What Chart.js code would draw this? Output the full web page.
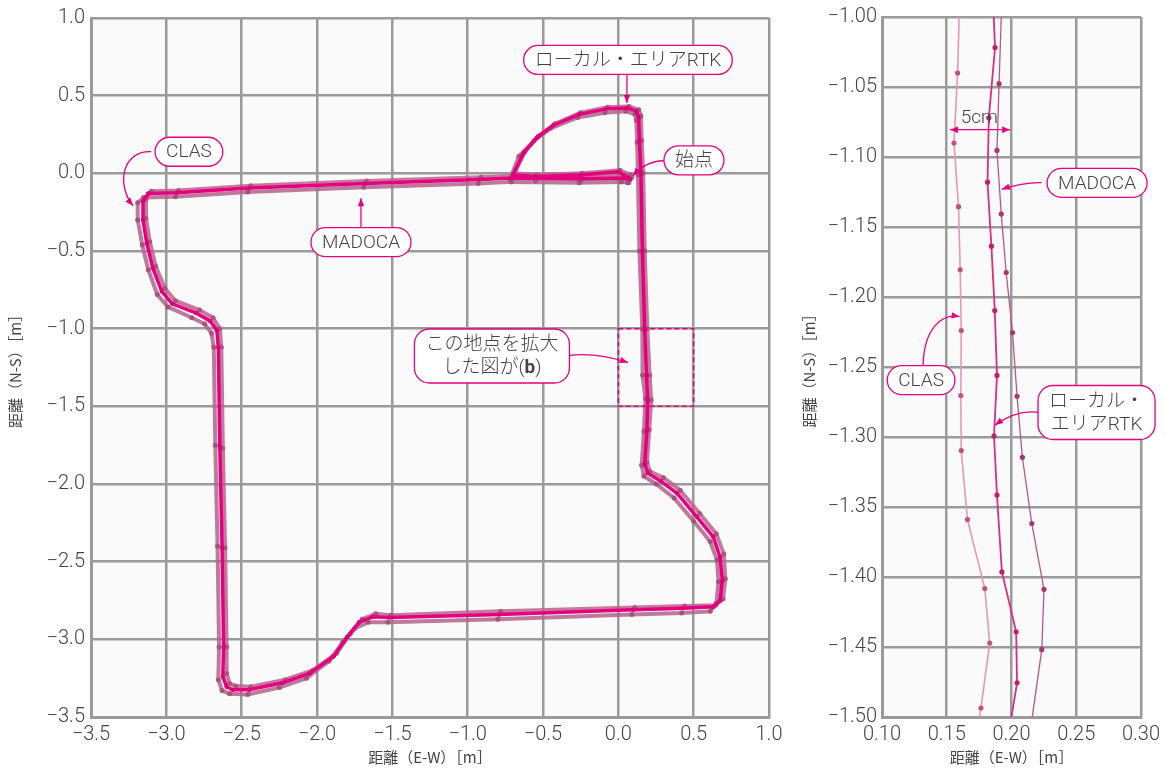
<!DOCTYPE html>
<html lang="ja">
<head>
<meta charset="utf-8">
<script src="https://cdn.jsdelivr.net/npm/chart.js@4.4.1/dist/chart.umd.min.js"></script>
<style>
  body { margin: 0; background: #fff; }
  #wrap { position: relative; width: 1166px; height: 768px; }
  #js--chart-left { position: absolute; left: 0; top: 0; }
  #js--chart-right { position: absolute; left: 800px; top: 0; }
</style>
</head>
<body>
<div id="wrap">
  <canvas id="js--chart-left" width="800" height="768"></canvas>
  <canvas id="js--chart-right" width="366" height="768"></canvas>
</div>
<script>
// (a) whole course, metres
const leftTicks = [-3.5, -3.0, -2.5, -2.0, -1.5, -1.0, -0.5, 0.0, 0.5, 1.0];

const rtkX = [0.07, 0.00, -0.25, -0.55, -0.70, -0.63, -0.54, -0.43, -0.26, -0.08, 0.06, 0.12, 0.135, 0.14, 0.15, 0.16, 0.175, 0.187, 0.195, 0.19, 0.175, 0.195, 0.28, 0.39, 0.52, 0.63, 0.675, 0.69, 0.675, 0.63, 0.43, 0.10, -0.79, -1.52, -1.63, -1.72, -1.80, -1.89, -2.05, -2.23, -2.45, -2.56, -2.60, -2.625, -2.62, -2.63, -2.645, -2.655, -2.665, -2.71, -2.80, -2.96, -3.03, -3.09, -3.13, -3.155, -3.155, -3.12, -2.93, -2.45, -1.68, -0.92, -0.70, -0.25, 0.03, 0.08];
const rtkY = [-0.03, 0.01, -0.01, -0.02, -0.01, 0.13, 0.23, 0.31, 0.38, 0.415, 0.42, 0.40, 0.36, 0.21, 0.00, -0.50, -1.01, -1.30, -1.46, -1.65, -1.87, -1.93, -1.98, -2.06, -2.21, -2.34, -2.47, -2.62, -2.75, -2.79, -2.80, -2.81, -2.84, -2.86, -2.855, -2.89, -2.985, -3.11, -3.22, -3.28, -3.325, -3.325, -3.305, -3.24, -3.05, -2.41, -1.76, -1.12, -1.01, -0.95, -0.90, -0.84, -0.76, -0.61, -0.45, -0.30, -0.18, -0.13, -0.125, -0.095, -0.065, -0.04, -0.03, -0.035, -0.03, -0.04];

const clasX = [0.06, -0.01, -0.25, -0.55, -0.72, -0.66, -0.56, -0.45, -0.27, -0.09, 0.05, 0.11, 0.12, 0.125, 0.13, 0.14, 0.159, 0.161, 0.18, 0.17, 0.155, 0.17, 0.25, 0.37, 0.50, 0.61, 0.655, 0.665, 0.65, 0.61, 0.42, 0.09, -0.80, -1.53, -1.66, -1.75, -1.83, -1.92, -2.07, -2.25, -2.46, -2.58, -2.63, -2.655, -2.65, -2.66, -2.675, -2.685, -2.70, -2.745, -2.83, -2.99, -3.06, -3.12, -3.16, -3.19, -3.19, -3.15, -2.94, -2.46, -1.69, -0.93, -0.71, -0.26, 0.02, 0.07];
const clasY = [-0.06, -0.03, -0.05, -0.05, -0.04, 0.11, 0.21, 0.29, 0.36, 0.39, 0.40, 0.38, 0.34, 0.20, -0.01, -0.50, -1.00, -1.30, -1.45, -1.66, -1.88, -1.95, -2.00, -2.09, -2.24, -2.37, -2.49, -2.63, -2.77, -2.82, -2.83, -2.84, -2.87, -2.89, -2.89, -2.93, -3.02, -3.14, -3.25, -3.31, -3.355, -3.35, -3.33, -3.26, -3.05, -2.40, -1.75, -1.12, -1.03, -0.97, -0.93, -0.86, -0.78, -0.62, -0.46, -0.30, -0.19, -0.155, -0.15, -0.12, -0.09, -0.065, -0.055, -0.06, -0.055, -0.06];

const madocaX = [0.08, 0.01, -0.24, -0.54, -0.69, -0.62, -0.53, -0.42, -0.25, -0.07, 0.07, 0.135, 0.15, 0.155, 0.165, 0.175, 0.192, 0.208, 0.218, 0.205, 0.19, 0.21, 0.30, 0.41, 0.54, 0.65, 0.70, 0.71, 0.695, 0.645, 0.44, 0.11, -0.78, -1.51, -1.61, -1.70, -1.78, -1.87, -2.03, -2.21, -2.44, -2.54, -2.58, -2.60, -2.60, -2.61, -2.625, -2.635, -2.645, -2.69, -2.78, -2.94, -3.01, -3.07, -3.11, -3.135, -3.135, -3.10, -2.92, -2.44, -1.67, -0.91, -0.69, -0.24, 0.04, 0.09];
const madocaY = [-0.01, 0.02, 0.00, -0.01, 0.00, 0.14, 0.24, 0.32, 0.39, 0.425, 0.43, 0.41, 0.37, 0.21, 0.00, -0.50, -1.00, -1.30, -1.46, -1.65, -1.86, -1.92, -1.96, -2.04, -2.19, -2.32, -2.45, -2.61, -2.74, -2.78, -2.785, -2.795, -2.82, -2.845, -2.835, -2.87, -2.965, -3.09, -3.20, -3.26, -3.305, -3.30, -3.285, -3.22, -3.05, -2.41, -1.77, -1.12, -1.00, -0.93, -0.88, -0.82, -0.74, -0.60, -0.44, -0.29, -0.165, -0.115, -0.11, -0.08, -0.05, -0.025, -0.015, -0.02, -0.015, -0.025];

// (b) zoom of the box x 0..0.5 / y -1.0..-1.5
const rightXTicks = [0.10, 0.15, 0.20, 0.25, 0.30];
const rightYTicks = [-1.50, -1.45, -1.40, -1.35, -1.30, -1.25, -1.20, -1.15, -1.10, -1.05, -1.00];

const zoomClasX = [0.1597, 0.1584, 0.1556, 0.1591, 0.1604, 0.1612, 0.1609, 0.1612, 0.1660, 0.1794, 0.1832, 0.1764, 0.1735];
const zoomClasY = [-0.994, -1.040, -1.090, -1.1355, -1.1806, -1.224, -1.2704, -1.3097, -1.359, -1.4083, -1.4472, -1.4936, -1.510];
const zoomRtkX = [0.1856, 0.1873, 0.1825, 0.1815, 0.1845, 0.1871, 0.1888, 0.1865, 0.1888, 0.1926, 0.2036, 0.2043, 0.1982];
const zoomRtkY = [-0.985, -1.0218, -1.072, -1.118, -1.1637, -1.2097, -1.256, -1.2993, -1.3415, -1.3964, -1.4391, -1.4756, -1.510];
const zoomMadocaX = [0.1923, 0.1904, 0.1888, 0.1921, 0.1959, 0.2008, 0.2043, 0.2084, 0.2157, 0.2251, 0.2234, 0.2145];
const zoomMadocaY = [-0.995, -1.0476, -1.0953, -1.1408, -1.1825, -1.2254, -1.2709, -1.3145, -1.3618, -1.4088, -1.4519, -1.510];

const PINK = '#e4007f';
const TICK_FONT = { family: "Roboto, 'Noto Sans CJK JP', sans-serif", size: 20, weight: '300' };
const TITLE_FONT = { family: "'Noto Sans CJK JP', Roboto, sans-serif", size: 15, weight: '400' };
const NOTE_FONT = "300 19px Roboto, 'Noto Sans CJK JP', sans-serif";
const NOTE_BOLD = "700 19px Roboto, 'Noto Sans CJK JP', sans-serif";

function toPoints(xs, ys) {
    return xs.map((x, i) => ({ x: x, y: ys[i] }));
}

function minusFmt(v, digits) {
    const s = Math.abs(v).toFixed(digits);
    return v < -1e-9 ? '\u2212' + s : s;
}

// --- annotation drawing --------------------------------------------------
function lineWidthOf(ctx, segs) {
    let w = 0;
    segs.forEach(s => { ctx.font = s[1] ? NOTE_BOLD : NOTE_FONT; w += ctx.measureText(s[0]).width; });
    return w;
}

function drawBox(ctx, cx, cy, lines) {
    const lineH = 23;
    const widths = lines.map(l => lineWidthOf(ctx, l));
    const w = Math.max(...widths) + 22;
    const h = lines.length * lineH + (lines.length === 1 ? 6 : 8);
    const r = lines.length === 1 ? h / 2 : 15;
    ctx.beginPath();
    ctx.roundRect(cx - w / 2, cy - h / 2, w, h, r);
    ctx.fillStyle = '#fff';
    ctx.fill();
    ctx.strokeStyle = PINK;
    ctx.lineWidth = 1.3;
    ctx.stroke();
    ctx.fillStyle = '#444';
    ctx.textBaseline = 'middle';
    ctx.textAlign = 'left';
    lines.forEach((l, i) => {
        let x = cx - widths[i] / 2;
        const y = cy - (lines.length - 1) * lineH / 2 + i * lineH + 1;
        l.forEach(s => {
            ctx.font = s[1] ? NOTE_BOLD : NOTE_FONT;
            ctx.fillText(s[0], x, y);
            x += ctx.measureText(s[0]).width;
        });
    });
}

function arrowHead(ctx, tip, from) {
    const a = Math.atan2(tip[1] - from[1], tip[0] - from[0]);
    const len = 8, half = 3.2;
    ctx.beginPath();
    ctx.moveTo(tip[0], tip[1]);
    ctx.lineTo(tip[0] - len * Math.cos(a) + half * Math.sin(a), tip[1] - len * Math.sin(a) - half * Math.cos(a));
    ctx.lineTo(tip[0] - len * Math.cos(a) - half * Math.sin(a), tip[1] - len * Math.sin(a) + half * Math.cos(a));
    ctx.closePath();
    ctx.fill();
}

function drawArrow(ctx, p, both) {
    ctx.strokeStyle = PINK;
    ctx.fillStyle = PINK;
    ctx.lineWidth = 1.3;
    ctx.beginPath();
    ctx.moveTo(p[0][0], p[0][1]);
    if (p.length === 2) ctx.lineTo(p[1][0], p[1][1]);
    if (p.length === 3) ctx.quadraticCurveTo(p[1][0], p[1][1], p[2][0], p[2][1]);
    if (p.length === 4) ctx.bezierCurveTo(p[1][0], p[1][1], p[2][0], p[2][1], p[3][0], p[3][1]);
    ctx.stroke();
    arrowHead(ctx, p[p.length - 1], p[p.length - 2]);
    if (both) arrowHead(ctx, p[0], p[1]);
}

function notesPlugin(notes) {
    return {
        id: 'notes',
        beforeDraw(chart) {
            const a = chart.chartArea;
            chart.ctx.save();
            chart.ctx.fillStyle = '#fafafa';
            chart.ctx.fillRect(a.left, a.top, a.right - a.left, a.bottom - a.top);
            chart.ctx.restore();
        },
        afterDatasetsDraw(chart) {
            const ctx = chart.ctx;
            const sx = chart.scales.x, sy = chart.scales.y;
            const P = d => [sx.getPixelForValue(d[0]), sy.getPixelForValue(d[1])];
            ctx.save();
            notes.forEach(n => {
                if (n.type === 'rect') {
                    const a = P(n.from), b = P(n.to);
                    ctx.setLineDash([5, 3]);
                    ctx.strokeStyle = PINK;
                    ctx.lineWidth = 1.5;
                    ctx.strokeRect(a[0], a[1], b[0] - a[0], b[1] - a[1]);
                    ctx.setLineDash([]);
                } else if (n.type === 'arrow') {
                    drawArrow(ctx, n.pts.map(P), n.both);
                } else if (n.type === 'box') {
                    const c = P(n.at);
                    drawBox(ctx, c[0], c[1], n.lines);
                } else if (n.type === 'text') {
                    const c = P(n.at);
                    ctx.font = NOTE_FONT;
                    ctx.fillStyle = '#444';
                    ctx.textAlign = 'center';
                    ctx.textBaseline = 'middle';
                    ctx.fillText(n.text, c[0], c[1]);
                }
            });
            ctx.restore();
        }
    };
}

const leftNotes = [
    { type: 'rect', from: [0.0, -1.0], to: [0.5, -1.5] },
    { type: 'arrow', pts: [[0.057, 0.634], [0.057, 0.452]] },
    { type: 'box', at: [0.064, 0.730], lines: [[['ローカル・エリアRTK']]] },
    { type: 'arrow', pts: [[0.303, 0.081], [0.180, 0.080], [0.097, -0.016]] },
    { type: 'box', at: [0.502, 0.084], lines: [[['始点']]] },
    { type: 'arrow', pts: [[-3.102, 0.139], [-3.30, 0.145], [-3.33, -0.080], [-3.221, -0.209]] },
    { type: 'box', at: [-2.850, 0.139], lines: [[['CLAS']]] },
    { type: 'arrow', pts: [[-1.708, -0.350], [-1.708, -0.160]] },
    { type: 'box', at: [-1.708, -0.443], lines: [[['MADOCA']]] },
    { type: 'arrow', pts: [[-0.334, -1.173], [-0.150, -1.150], [0.064, -1.218]] },
    { type: 'box', at: [-0.839, -1.176], lines: [[['この地点を拡大']], [['した図が('], ['b', true], [')']]] }
];

const rightNotes = [
    { type: 'arrow', pts: [[0.1525, -1.0805], [0.199, -1.0805]], both: true },
    { type: 'text', at: [0.1751, -1.0725], text: '5cm' },
    { type: 'arrow', pts: [[0.2231, -1.1183], [0.2090, -1.1180], [0.1926, -1.1231]] },
    { type: 'box', at: [0.2661, -1.1185], lines: [[['MADOCA']]] },
    { type: 'arrow', pts: [[0.1317, -1.2488], [0.1325, -1.222], [0.146, -1.212], [0.1599, -1.214]] },
    { type: 'box', at: [0.1302, -1.2594], lines: [[['CLAS']]] },
    { type: 'arrow', pts: [[0.2215, -1.2825], [0.2050, -1.2800], [0.1873, -1.2914]] },
    { type: 'box', at: [0.2657, -1.2825], lines: [[['ローカル・']], [['エリアRTK']]] }
];

function axisOptions(min, max, ticks, digits, title, size, titlePad, tickPad) {
    return {
        type: 'linear',
        min: min,
        max: max,
        afterBuildTicks: s => { s.ticks = ticks.map(v => ({ value: v })); },
        afterFit: s => {
            if (s.isHorizontal()) s.height = size; else s.width = size;
        },
        ticks: {
            font: TICK_FONT,
            color: '#444',
            padding: tickPad,
            autoSkip: false,
            maxRotation: 0,
            callback: v => minusFmt(v, digits)
        },
        grid: { color: '#9a9a9a', lineWidth: 2.5, drawTicks: false },
        border: { color: '#9a9a9a', width: 3 },
        title: { display: true, text: title, font: TITLE_FONT, color: '#444', padding: titlePad }
    };
}

const leftChart = new Chart(document.getElementById('js--chart-left').getContext('2d'), {
    type: 'scatter',
    data: {
        datasets: [
            {
                label: 'ローカル・エリアRTK',
                data: toPoints(rtkX, rtkY),
                showLine: true,
                borderColor: '#e5007f',
                borderWidth: 3.5,
                pointRadius: 2.2,
                pointBackgroundColor: '#dc0078',
                pointBorderWidth: 0
            },
            {
                label: 'MADOCA',
                data: toPoints(madocaX, madocaY),
                showLine: true,
                borderColor: 'rgba(188, 96, 140, 0.85)',
                borderWidth: 4,
                pointRadius: 2.5,
                pointBackgroundColor: 'rgba(170, 80, 125, 0.9)',
                pointBorderWidth: 0
            },
            {
                label: 'CLAS',
                data: toPoints(clasX, clasY),
                showLine: true,
                borderColor: 'rgba(176, 100, 138, 0.85)',
                borderWidth: 4,
                pointRadius: 2.5,
                pointBackgroundColor: 'rgba(160, 80, 120, 0.9)',
                pointBorderWidth: 0
            }
        ]
    },
    options: {
        responsive: false,
        animation: false,
        layout: { padding: { top: 17, right: 31, left: 0, bottom: 0 } },
        plugins: { legend: { display: false }, tooltip: { enabled: false } },
        scales: {
            x: axisOptions(-3.5, 1.0, leftTicks, 1, '距離（E-W）［m］', 51, { top: 0, bottom: 2 }, 6),
            y: axisOptions(-3.5, 1.0, leftTicks, 1, '距離（N-S）［m］', 91, { top: 6, bottom: 3 }, 6)
        }
    },
    plugins: [notesPlugin(leftNotes)]
});

const rightChart = new Chart(document.getElementById('js--chart-right').getContext('2d'), {
    type: 'scatter',
    data: {
        datasets: [
            {
                label: 'ローカル・エリアRTK',
                data: toPoints(zoomRtkX, zoomRtkY),
                showLine: true,
                borderColor: '#d9307c',
                borderWidth: 1.8,
                pointRadius: 2.6,
                pointBackgroundColor: '#c41e66',
                pointBorderWidth: 0
            },
            {
                label: 'MADOCA',
                data: toPoints(zoomMadocaX, zoomMadocaY),
                showLine: true,
                borderColor: '#b55a86',
                borderWidth: 1.3,
                pointRadius: 2.6,
                pointBackgroundColor: '#a8386a',
                pointBorderWidth: 0
            },
            {
                label: 'CLAS',
                data: toPoints(zoomClasX, zoomClasY),
                showLine: true,
                borderColor: '#e597b8',
                borderWidth: 1.6,
                pointRadius: 2.6,
                pointBackgroundColor: '#c2527f',
                pointBorderWidth: 0
            }
        ]
    },
    options: {
        responsive: false,
        animation: false,
        layout: { padding: { top: 17, right: 20, left: 0, bottom: 0 } },
        plugins: { legend: { display: false }, tooltip: { enabled: false } },
        scales: {
            x: axisOptions(0.10, 0.30, rightXTicks, 2, '距離（E-W）［m］', 51, { top: 0, bottom: 2 }, 6),
            y: axisOptions(-1.50, -1.00, rightYTicks, 2, '距離（N-S）［m］', 82, { top: 0, bottom: 0 }, 5)
        }
    },
    plugins: [notesPlugin(rightNotes)]
});
</script>
</body>
</html>
